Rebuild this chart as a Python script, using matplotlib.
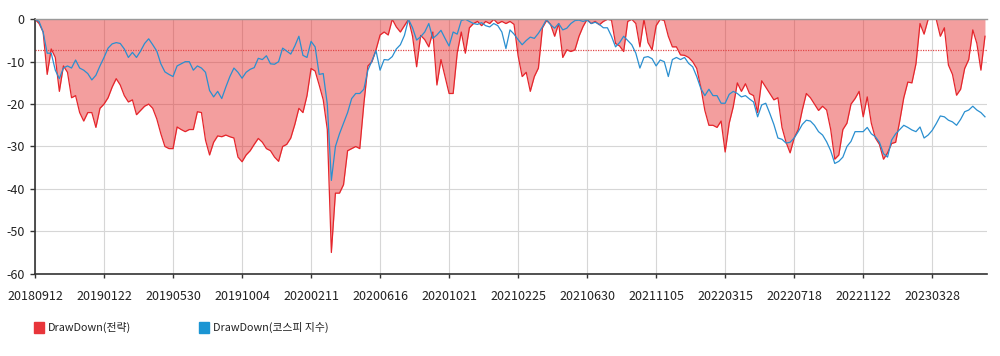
import matplotlib
matplotlib.use('Agg')
import matplotlib.pyplot as plt
from matplotlib.patches import Rectangle

plt.rcParams['font.family'] = ['Liberation Sans Narrow', 'Noto Sans CJK KR', 'DejaVu Sans']
plt.rcParams['axes.unicode_minus'] = False

# x축 라벨 (17 포인트마다 하나)
tick_labels = ['20180912', '20190122', '20190530', '20191004', '20200211', '20200616', '20201021',
               '20210225', '20210630', '20211105', '20220315', '20220718', '20221122', '20230328']
tick_every = 17
y_ticks = [0, -10, -20, -30, -40, -50, -60]

# 전략 드로다운 (%)
strategy_dd = [
    0, -1, -3, -13, -7, -9, -17, -11, -12.5, -18.5, -18, -22, -24, -22, -22, -25.5, -21,
    -20, -18.5, -16, -14, -15.5, -18, -19.5, -19, -22.5, -21.5, -20.5, -20, -21, -23.5, -27, -30, -30.5,
    -30.5, -25.4, -26, -26.5, -26, -26, -21.8, -22, -28.5, -32, -29, -27.5, -27.7, -27.3, -27.7, -28, -32.5,
    -33.6, -32, -31, -29.5, -28.1, -29, -30.5, -31, -32.5, -33.5, -30, -29.5, -28, -24.8, -21, -22, -18,
    -11.6, -12.2, -15.5, -19, -26, -55, -41, -41, -39, -31, -30.5, -30, -30.5, -20, -11, -10, -7.2,
    -3.7, -3, -3.7, 0, -1.8, -3, -1.5, 0, -4, -11.2, -3.8, -4.8, -6.5, -3, -15.5, -9.5, -13.5,
    -17.5, -17.5, -8, -3, -8, -2, -1, -0.5, -1.5, -0.5, -1, 0, -1, -0.5, -1, -0.5, -1.2,
    -8.6, -13.5, -12.5, -17, -13.5, -11.5, -2, -0.3, -1.2, -4, -1, -9, -7.2, -7.6, -7.2, -4, -1.7,
    0, -1, -0.5, -1.3, -0.5, 0, -0.2, -5.7, -6.3, -7.6, -0.5, 0, -1, -6.5, 0, -5.5, -7.2,
    -1.5, 0, -0.3, -4, -6.5, -6.5, -8.4, -8.5, -9, -10, -11.6, -16, -21.5, -25, -25, -25.5, -24,
    -31.3, -24.5, -20.6, -15, -17, -15.2, -17.5, -18, -22, -14.5, -16, -17.5, -19, -18.5, -25.5, -29, -31.5,
    -28, -26, -21.4, -17.5, -18.5, -20, -21.5, -20.5, -21.4, -26, -33, -32, -26, -24.5, -20, -18.7, -17,
    -23, -18.3, -24.5, -28, -29.5, -33, -31.5, -29.3, -29, -24, -18.5, -14.8, -15, -10.5, -1, -3.5, 0,
    0, 0, -4, -2, -10.8, -13, -17.9, -16.5, -11.6, -9.5, -2.5, -5.7, -12, -4,
]

# 코스피 지수 드로다운 (%)
kospi_dd = [
    0, -0.5, -3, -8, -8, -12, -14, -11.5, -11, -11.5, -9.6, -11.5, -12, -12.8, -14.3, -13.2, -11,
    -9, -6.8, -5.8, -5.5, -5.7, -7, -9, -7.8, -9, -7.5, -5.7, -4.6, -6, -7.5, -10.5, -12.4, -13,
    -13.5, -11, -10.5, -10, -10, -12, -11, -11.5, -12.5, -16.8, -18.3, -17, -18.7, -16, -13.5, -11.5, -12.5,
    -13.9, -12.5, -11.8, -11.4, -9.2, -9.5, -8.6, -10.5, -10.6, -10, -6.8, -7.5, -8.2, -6.3, -4, -8.5, -9,
    -5.2, -6.5, -13, -12.8, -20, -38, -30, -27, -24.5, -22, -18.7, -17.5, -17.5, -16.5, -12, -9.8, -7.4,
    -12, -9.5, -9.6, -8.8, -7, -6, -3.8, 0, -2, -4.9, -4.1, -3, -1, -4.5, -3.7, -2.6, -4.5,
    -6.3, -3, -3.5, -0.3, 0, -0.5, -1, -1.2, -0.8, -1.5, -1.8, -1, -1.5, -3, -6.9, -2.5, -3.5,
    -4.8, -6, -5, -4.2, -4.5, -3.3, -1.8, 0, -1.3, -2.1, -1, -2.5, -2.1, -1, -0.3, -0.2, -0.5,
    -0.2, -1, -0.7, -1.2, -2, -2, -4, -6.5, -5.5, -4, -5, -6, -8, -11.5, -9, -8.8, -9.3,
    -11, -9.6, -10, -13.5, -9.5, -9, -9.5, -9, -10.4, -11.2, -13.5, -16.3, -18, -16.5, -18, -18, -19.8,
    -19.8, -17.7, -17, -17.5, -18.3, -18, -18.8, -19.5, -23, -20.2, -19.8, -22.2, -24.8, -28, -28.3, -29.2, -29,
    -28, -26.5, -24.8, -23.8, -24, -25, -26.5, -27.3, -28.9, -31, -34, -33.5, -32.5, -30, -28.8, -26.5, -26.5,
    -26.5, -25.5, -27, -27.7, -29, -31.7, -32.5, -28.5, -27, -26, -25, -25.5, -26.1, -26.5, -25.4, -28, -27.3,
    -26.2, -24.6, -22.8, -23, -23.8, -24.2, -25, -23.6, -21.8, -21.4, -20.5, -21.4, -22, -23,
]

avg_dd = -7.2  # 점선 기준선

series_names = ['DrawDown(전략)', 'DrawDown(코스피 지수)']
series_colors = ['#e8353a', '#1b95d3']

x = list(range(len(strategy_dd)))

fig = plt.figure(figsize=(10, 3.56), dpi=100)
ax = fig.add_axes([0.035, 0.2312, 0.952, 0.7146])

ax.grid(True, color='#d6d6d6', linewidth=0.8)
ax.set_axisbelow(True)

ax.fill_between(x, strategy_dd, 0, color='#e62828', alpha=0.45, linewidth=0)
ax.axhline(avg_dd, color='#e04848', linewidth=0.9, linestyle=(0, (1, 1)))
ax.plot(x, strategy_dd, color='#e5252b', linewidth=0.9)
ax.plot(x, kospi_dd, color='#2a8fd0', linewidth=0.9)

ax.set_xlim(0, 234.5)
ax.set_ylim(-60, 0)
ax.set_xticks([i * tick_every for i in range(len(tick_labels))])
ax.set_xticklabels(tick_labels)
ax.set_yticks(y_ticks)
ax.set_yticklabels([str(v) for v in y_ticks])
ax.tick_params(axis='x', length=3, width=1, color='#333333', pad=9, labelsize=9, labelcolor='#222222')
ax.tick_params(axis='y', length=3.6, width=1, color='#333333', pad=4, labelsize=9, labelcolor='#222222')

for side in ['left', 'bottom']:
    ax.spines[side].set_color('#333333')
    ax.spines[side].set_linewidth(1.2)
ax.spines['top'].set_color('#9a9a9a')
ax.spines['top'].set_linewidth(1.0)
ax.spines['right'].set_visible(False)

# 하단 범례
legend_x = [34, 199]
for name, color, lx in zip(series_names, series_colors, legend_x):
    fig.patches.append(Rectangle((lx / 1000, 1 - 333 / 356), 10 / 1000, 11 / 356,
                                 transform=fig.transFigure, color=color))
    fig.text((lx + 14) / 1000, 1 - 327.5 / 356, name, fontsize=7.8, color='#222222', va='center')

fig.savefig('out.png', dpi=100)
